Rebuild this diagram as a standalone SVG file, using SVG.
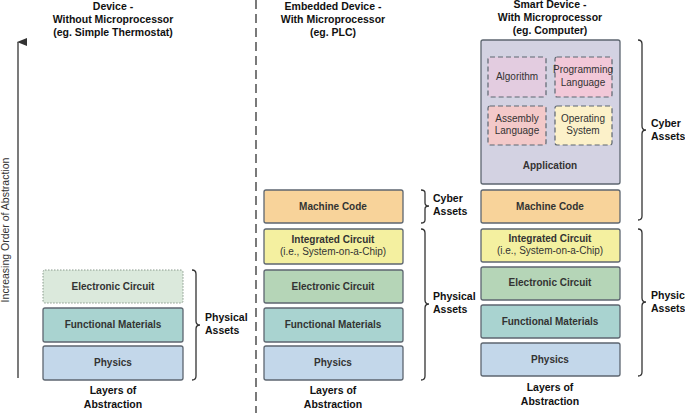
<svg xmlns="http://www.w3.org/2000/svg" width="685" height="413" viewBox="0 0 685 413">
<style>
text{font-family:"Liberation Sans",Arial,sans-serif;font-size:10px;fill:#333;text-anchor:middle}
.b{font-weight:bold}
.h{font-weight:bold;font-size:10.5px;fill:#111}
.box{stroke:#5d6670;stroke-width:1.3}
.in{stroke:#5d6670;stroke-width:1.2;stroke-dasharray:5,3}
.br{fill:none;stroke:#333;stroke-width:1.3}
</style>
<defs><marker id="ah" markerWidth="8" markerHeight="10" refX="4" refY="1" orient="auto" markerUnits="userSpaceOnUse"><path d="M0,10 L4,0 L8,10 Z" fill="#333"/></marker></defs>
<rect width="685" height="413" fill="#fff"/>
<line x1="256" y1="0" x2="256" y2="413" stroke="#333" stroke-width="1.3" stroke-dasharray="9,5"/>
<g id="axis"><line x1="18" y1="378" x2="18" y2="42" stroke="#333" stroke-width="1.3" marker-end="url(#ah)"/>
<text transform="translate(9,230) rotate(-90)" style="font-size:10.5px">Increasing Order of Abstraction</text></g>
<g id="headers">
<text class="h" x="113" y="10">Device -</text><text class="h" x="113" y="23">Without Microprocessor</text><text class="h" x="113" y="36">(eg. Simple Thermostat)</text>
<text class="h" x="333" y="10">Embedded Device -</text><text class="h" x="333" y="23">With Microprocessor</text><text class="h" x="333" y="36">(eg. PLC)</text>
<text class="h" x="550" y="8">Smart Device -</text><text class="h" x="550" y="21">With Microprocessor</text><text class="h" x="550" y="34">(eg. Computer)</text>
<text class="h" x="113" y="394">Layers of</text><text class="h" x="113" y="408">Abstraction</text>
<text class="h" x="333" y="394">Layers of</text><text class="h" x="333" y="408">Abstraction</text>
<text class="h" x="550" y="391">Layers of</text><text class="h" x="550" y="405">Abstraction</text>
</g>
<g id="col1">
<g id="c1-ec"><rect x="43" y="270" width="140" height="33" rx="2" fill="#dbe9dc" stroke="#8a9a8c" stroke-width="1" stroke-dasharray="1.5,1.5"/><text class="b" x="113" y="290">Electronic Circuit</text></g>
<g id="c1-fm"><rect class="box" x="43" y="308" width="140" height="34" rx="2" fill="#a9d3d0"/><text class="b" x="113" y="328">Functional Materials</text></g>
<g id="c1-ph"><rect class="box" x="43" y="346" width="140" height="34" rx="2" fill="#c3d7ea"/><text class="b" x="113" y="366">Physics</text></g>
</g>
<g id="col2">
<g id="c2-mc"><rect class="box" x="264" y="190" width="139" height="33" rx="2" fill="#f8d39a"/><text class="b" x="333" y="210">Machine Code</text></g>
<g id="c2-ic"><rect class="box" x="264" y="229" width="139" height="35" rx="2" fill="#f4f0a0"/><text class="b" x="333" y="243">Integrated Circuit</text><text x="333" y="255">(i.e., System-on-a-Chip)</text></g>
<g id="c2-ec"><rect class="box" x="264" y="270" width="139" height="33" rx="2" fill="#b5d5b7"/><text class="b" x="333" y="290">Electronic Circuit</text></g>
<g id="c2-fm"><rect class="box" x="264" y="308" width="139" height="34" rx="2" fill="#a9d3d0"/><text class="b" x="333" y="328">Functional Materials</text></g>
<g id="c2-ph"><rect class="box" x="264" y="346" width="139" height="34" rx="2" fill="#c3d7ea"/><text class="b" x="333" y="366">Physics</text></g>
</g>
<g id="col3">
<g id="c3-app"><rect class="box" x="481" y="40" width="139" height="144" rx="2" fill="#d3d2e2"/><text class="b" x="550" y="169">Application</text></g>
<g id="c3-alg"><rect class="in" x="488" y="57" width="58" height="40" rx="2" fill="#e3cce0"/><text x="517" y="80">Algorithm</text></g>
<g id="c3-pl"><rect class="in" x="555" y="57" width="57" height="40" rx="2" fill="#f2c8d8"/><text x="583" y="73">Programming</text><text x="583" y="86">Language</text></g>
<g id="c3-al"><rect class="in" x="488" y="106" width="58" height="39" rx="2" fill="#f3c9c9"/><text x="517" y="122">Assembly</text><text x="517" y="134">Language</text></g>
<g id="c3-os"><rect class="in" x="555" y="106" width="57" height="39" rx="2" fill="#fcf1c9"/><text x="583" y="122">Operating</text><text x="583" y="134">System</text></g>
<g id="c3-mc"><rect class="box" x="481" y="190" width="139" height="33" rx="2" fill="#f8d39a"/><text class="b" x="550" y="210">Machine Code</text></g>
<g id="c3-ic"><rect class="box" x="481" y="229" width="139" height="33" rx="2" fill="#f4f0a0"/><text class="b" x="550" y="242">Integrated Circuit</text><text x="550" y="254">(i.e., System-on-a-Chip)</text></g>
<g id="c3-ec"><rect class="box" x="481" y="267" width="139" height="33" rx="2" fill="#b5d5b7"/><text class="b" x="550" y="286">Electronic Circuit</text></g>
<g id="c3-fm"><rect class="box" x="481" y="305" width="139" height="33" rx="2" fill="#a9d3d0"/><text class="b" x="550" y="325">Functional Materials</text></g>
<g id="c3-ph"><rect class="box" x="481" y="343" width="139" height="33" rx="2" fill="#c3d7ea"/><text class="b" x="550" y="363">Physics</text></g>
</g>
<g id="braces">
<path class="br" d="M192,270 q4,0 4,4 V321 q0,4 4,4 q-4,0 -4,4 V376 q0,4 -4,4"/>
<path class="br" d="M421,190 q4,0 4,3 V203 q0,3 4,3 q-4,0 -4,3 V220 q0,3 -4,3"/>
<path class="br" d="M421,229 q4,0 4,4 V300 q0,4 4,4 q-4,0 -4,4 V376 q0,4 -4,4"/>
<path class="br" d="M638,40 q4,0 4,4 V126 q0,4 4,4 q-4,0 -4,4 V216 q0,4 -4,4"/>
<path class="br" d="M638,229 q4,0 4,4 V298 q0,4 4,4 q-4,0 -4,4 V372 q0,4 -4,4"/>
<text class="h" x="205" y="321" style="text-anchor:start">Physical</text><text class="h" x="205" y="334" style="text-anchor:start">Assets</text>
<text class="h" x="433" y="202" style="text-anchor:start">Cyber</text><text class="h" x="433" y="215" style="text-anchor:start">Assets</text>
<text class="h" x="433" y="300" style="text-anchor:start">Physical</text><text class="h" x="433" y="313" style="text-anchor:start">Assets</text>
<text class="h" x="651" y="127" style="text-anchor:start">Cyber</text><text class="h" x="651" y="140" style="text-anchor:start">Assets</text>
<text class="h" x="651" y="299" style="text-anchor:start">Physical</text><text class="h" x="651" y="312" style="text-anchor:start">Assets</text>
</g>
</svg>
